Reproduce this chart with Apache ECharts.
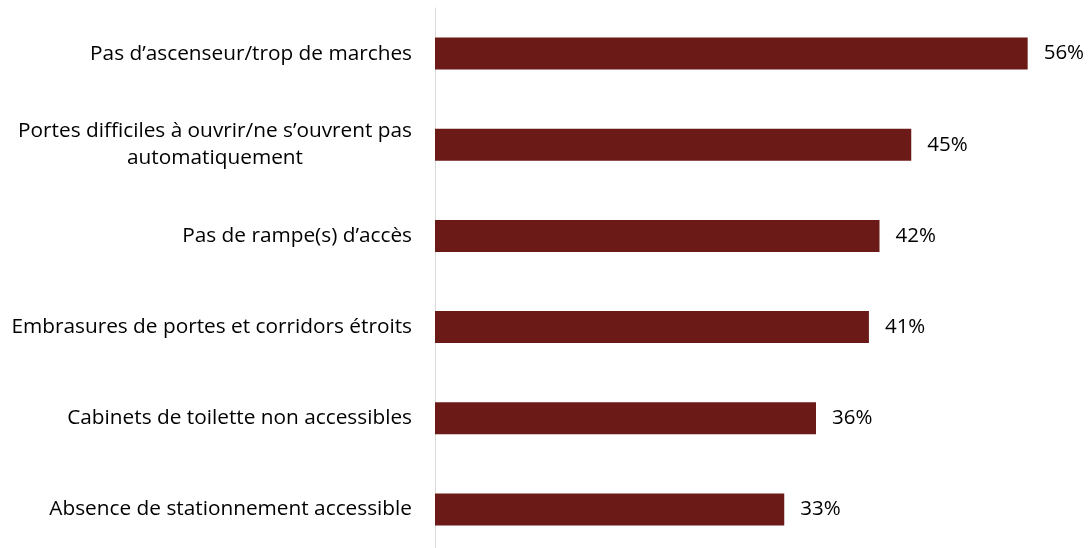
<!DOCTYPE html>
<html><head><meta charset="utf-8">
<script src="https://cdn.jsdelivr.net/npm/echarts@6/dist/echarts.min.js"></script>
<style>html,body{margin:0;padding:0;background:#fff}#c{width:1090px;height:548px}</style>
</head><body><div id="c"></div>
<script>
const categories = [
  "Pas d’ascenseur/trop de marches",
  "Portes difficiles à ouvrir/ne s’ouvrent pas\nautomatiquement",
  "Pas de rampe(s) d’accès",
  "Embrasures de portes et corridors étroits",
  "Cabinets de toilette non accessibles",
  "Absence de stationnement accessible"
];
const values = [56, 45, 42, 41, 36, 33];

const FONT = 'Open Sans';
const FS = 20.8;
const chart = echarts.init(document.getElementById('c'), null, {renderer: 'canvas'});
chart.setOption({
  animation: false,
  grid: {left: 435, width: 635, top: 8, height: 547, containLabel: false, outerBoundsMode: 'none'},
  xAxis: {type: 'value', min: 0, max: 60, show: false},
  yAxis: {
    type: 'category', inverse: true, data: categories,
    axisLine: {show: true, lineStyle: {color: '#d9d9d9', width: 1}},
    axisTick: {show: false},
    axisLabel: {
      margin: 23, color: '#000', fontFamily: FONT, fontSize: FS, align: 'right',
      formatter: function (v) {
        const parts = v.split('\n');
        if (parts.length === 1) return v;
        return '{a|' + parts[0] + '}\n{b|' + parts[1] + '}';
      },
      rich: {
        a: {fontFamily: FONT, fontSize: FS, color: '#000', align: 'right', lineHeight: 27},
        b: {fontFamily: FONT, fontSize: FS, color: '#000', align: 'center', lineHeight: 27}
      }
    }
  },
  series: [{
    type: 'bar', data: values, barWidth: 32,
    itemStyle: {color: '#6B1A17'},
    label: {show: true, position: 'right', distance: 16, formatter: '{c}%',
      color: '#000', fontFamily: FONT, fontSize: 20.5}
  }]
});
</script></body></html>
